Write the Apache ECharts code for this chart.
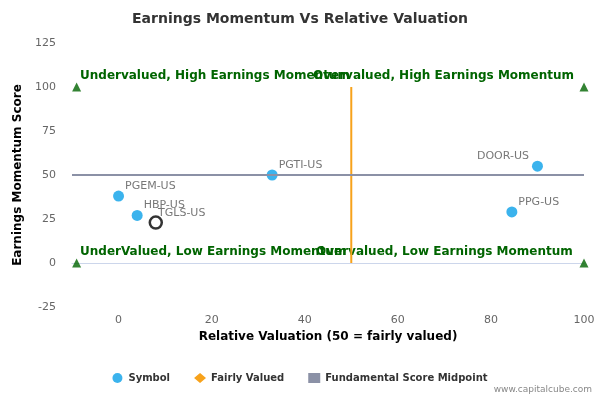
<!DOCTYPE html>
<html><head><meta charset="utf-8">
<script src="https://cdn.jsdelivr.net/npm/echarts@6/dist/echarts.min.js"></script>
<style>body{margin:0}#c{width:600px;height:400px}</style></head>
<body><div id="c"></div>
<script>
// datos
const symbols = ['PGEM-US', 'HBP-US', 'PGTI-US', 'DOOR-US', 'PPG-US'];
const valuation = [0, 4, 33, 90, 84.5];
const momentum = [38, 27, 50, 55, 29];
const highlight = { name: 'TGLS-US', x: 8, y: 23 };
const fairLine = [[50, 0], [50, 100]];
const midLine = [[-10, 50], [100, 50]];
const corners = [[-9, 100], [100, 100], [-9, 0], [100, 0]];
const quadrantLabels = [
  { text: 'Undervalued, High Earnings Momentum', x: 80, y: 70 },
  { text: 'Overvalued, High Earnings Momentum', x: 313, y: 70 },
  { text: 'UnderValued, Low Earnings Momentum', x: 80, y: 246 },
  { text: 'Overvalued, Low Earnings Momentum', x: 316, y: 246 }
];

const chart = echarts.init(document.getElementById('c'));
const font = 'DejaVu Sans';
chart.setOption({
  textStyle: { fontFamily: font },
  title: { text: 'Earnings Momentum Vs Relative Valuation', left: 'center', top: 7,
    textStyle: { fontSize: 14, fontWeight: 'bold', color: '#333', fontFamily: font } },
  grid: { left: 72, right: 16, top: 43, bottom: 93 },
  xAxis: { type: 'value', min: -10, max: 100, interval: 10,
    name: 'Relative Valuation (50 = fairly valued)', nameLocation: 'middle', nameGap: 24,
    nameTextStyle: { fontWeight: 'bold', fontSize: 12, color: '#000' },
    axisLabel: { color: '#666', fontSize: 11, formatter: v => v % 20 === 0 ? v : '' },
    axisLine: { lineStyle: { color: '#ccd6eb' } }, axisTick: { show: false },
    splitLine: { show: false } },
  yAxis: { type: 'value', min: -25, max: 125, interval: 25,
    name: 'Earnings Momentum Score', nameLocation: 'middle', nameGap: 44,
    nameTextStyle: { fontWeight: 'bold', fontSize: 12, color: '#000' },
    axisLabel: { color: '#666', fontSize: 11, margin: 16 },
    axisLine: { show: false }, axisTick: { show: false },
    splitLine: { show: false } },
  legend: { bottom: 12, itemGap: 24, itemWidth: 12, itemHeight: 10,
    textStyle: { fontSize: 10, fontWeight: 'bold', color: '#333' },
    data: [
      { name: 'Symbol', icon: 'circle', itemStyle: { color: '#0aa0e8' } },
      { name: 'Fairly Valued', icon: 'diamond', itemStyle: { color: '#f7a21b' } },
      { name: 'Fundamental Score Midpoint', icon: 'rect', itemStyle: { color: '#8b91a6' } }
    ] },
  graphic: quadrantLabels.map(q => ({ type: 'text', left: q.x, top: q.y,
    style: { text: q.text, fill: '#006400', font: 'bold 12px ' + font } }))
    .concat([{ type: 'text', right: 8, bottom: 6,
      style: { text: 'www.capitalcube.com', fill: '#888', font: '9px ' + font } }]),
  series: [
    { name: 'Symbol', type: 'scatter', symbolSize: 11, itemStyle: { color: '#0aa0e8' },
      data: symbols.map((s, i) => ({ name: s, value: [valuation[i], momentum[i]],
        label: s === 'DOOR-US' ? { position: 'left', offset: [2, -10] } : undefined })),
      label: { show: true, position: 'right', offset: [-4, -10], formatter: '{b}', color: '#555', fontSize: 11 } },
    { name: 'Symbol', type: 'scatter', symbolSize: 12,
      itemStyle: { color: '#fff', borderColor: '#000', borderWidth: 2.5 },
      data: [{ name: highlight.name, value: [highlight.x, highlight.y] }],
      label: { show: true, position: 'right', offset: [-10, -9], formatter: '{b}', color: '#555', fontSize: 11 } },
    { name: 'Fairly Valued', type: 'line', data: fairLine, symbol: 'none',
      lineStyle: { color: '#f7a21b', width: 2 } },
    { name: 'Fundamental Score Midpoint', type: 'line', data: midLine, symbol: 'none',
      lineStyle: { color: '#8b91a6', width: 2 } },
    { name: 'corners', type: 'scatter', symbol: 'triangle', symbolSize: 9,
      itemStyle: { color: '#006400' }, data: corners }
  ]
});
</script></body></html>
